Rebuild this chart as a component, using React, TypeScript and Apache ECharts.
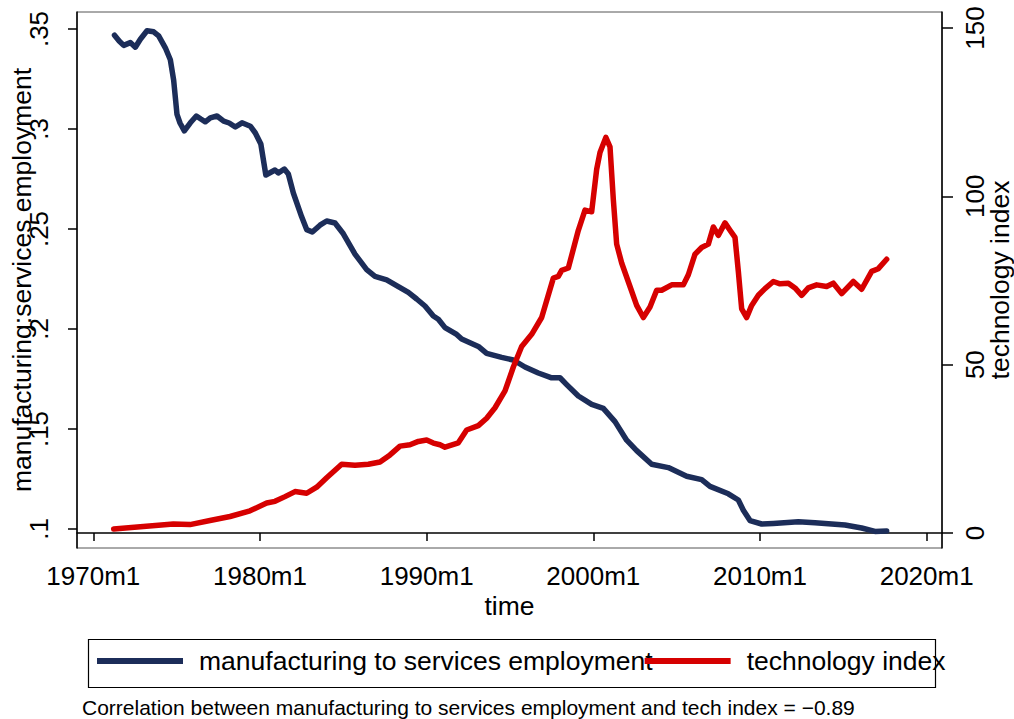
import React, { useEffect, useRef } from "react";
import * as echarts from "echarts";

// manufacturing : services employment ratio (left axis), time in decimal years
const mfgYears = [
  1971.27, 1971.55, 1971.82, 1972.22, 1972.52, 1972.82, 1973.22, 1973.62, 1973.92, 1974.32,
  1974.62, 1974.82, 1975.02, 1975.2, 1975.46, 1975.82, 1976.18, 1976.45, 1976.72, 1977.02,
  1977.42, 1977.82, 1978.15, 1978.52, 1978.92, 1979.42, 1979.72, 1980.05, 1980.35, 1980.9,
  1981.1, 1981.46, 1981.7, 1982.0, 1982.5, 1982.8, 1983.14, 1983.6, 1984.0, 1984.5,
  1985.0, 1985.7, 1986.4, 1986.9, 1987.6, 1988.3, 1988.9, 1989.4, 1989.9, 1990.4,
  1990.7, 1991.1, 1991.8, 1992.1, 1993.1, 1993.6, 1994.5, 1995.2, 1995.9, 1996.7,
  1997.5, 1998.0, 1998.4, 1999.1, 1999.9, 2000.6, 2001.3, 2002.0, 2002.6, 2003.5,
  2004.5, 2005.6, 2006.5, 2007.0, 2008.1, 2008.7, 2009.0, 2009.4, 2010.1, 2010.8,
  2012.3, 2013.3, 2015.1, 2016.1, 2016.9, 2017.6,
];
const mfgRatio = [
  0.3469, 0.344, 0.3418, 0.3432, 0.3409, 0.3449, 0.3491, 0.3486, 0.3466, 0.3406,
  0.3346, 0.3244, 0.3073, 0.303, 0.2991, 0.3031, 0.3065, 0.305, 0.3036, 0.3056,
  0.3065, 0.3039, 0.303, 0.301, 0.3031, 0.3014, 0.298, 0.2925, 0.277, 0.2795,
  0.278, 0.28, 0.2775, 0.268, 0.2561, 0.2497, 0.2485, 0.2519, 0.254, 0.253,
  0.2476, 0.2374, 0.2297, 0.2263, 0.2246, 0.2212, 0.2183, 0.215, 0.2115, 0.2065,
  0.2049, 0.2007, 0.1973, 0.195, 0.1913, 0.1878, 0.1858, 0.1845, 0.181, 0.178,
  0.1756, 0.1756, 0.1722, 0.1665, 0.1623, 0.1603, 0.1537, 0.1444, 0.1392, 0.1324,
  0.1307, 0.1264, 0.1247, 0.1213, 0.1176, 0.1145, 0.1094, 0.1042, 0.1025, 0.1028,
  0.1036, 0.1031, 0.102, 0.1005, 0.0988, 0.099,
];

// technology index (right axis)
const techYears = [
  1971.22, 1973.0, 1974.8, 1975.8, 1977.0, 1978.2, 1979.4, 1980.4, 1980.9, 1981.5,
  1982.1, 1982.8, 1983.4, 1984.0, 1984.9, 1985.7, 1986.5, 1987.2, 1987.8, 1988.4,
  1989.0, 1989.5, 1990.0, 1990.4, 1990.8, 1991.1, 1991.9, 1992.4, 1993.1, 1993.6,
  1994.1, 1994.7, 1995.2, 1995.7, 1996.3, 1996.9, 1997.6, 1997.9, 1998.1, 1998.5,
  1999.1, 1999.5, 1999.9, 2000.2, 2000.4, 2000.75, 2001.0, 2001.2, 2001.4, 2001.7,
  2002.2, 2002.6, 2003.0, 2003.4, 2003.8, 2004.1, 2004.7, 2005.4, 2005.7, 2006.1,
  2006.5, 2006.9, 2007.2, 2007.5, 2007.9, 2008.2, 2008.5, 2008.7, 2008.9, 2009.2,
  2009.5, 2009.9, 2010.3, 2010.8, 2011.2, 2011.7, 2012.1, 2012.5, 2012.9, 2013.4,
  2014.0, 2014.4, 2014.9, 2015.6, 2016.1, 2016.7, 2017.1, 2017.6,
];
const techIndex = [
  1.2, 1.9, 2.7, 2.5, 3.7, 4.9, 6.6, 8.9, 9.4, 10.8,
  12.3, 11.8, 13.6, 16.4, 20.4, 20.1, 20.4, 21.1, 23.2, 25.8,
  26.2, 27.2, 27.6, 26.7, 26.2, 25.5, 26.8, 30.6, 31.9, 34.1,
  37.2, 42.2, 49.3, 55.4, 59.0, 64.0, 75.7, 76.2, 78.0, 78.7,
  89.9, 95.9, 95.4, 108, 113, 117.5, 114.7, 99, 85.8, 80.2,
  73.2, 67.6, 64.0, 67.1, 72.1, 72.1, 73.7, 73.7, 76.7, 82.8,
  84.8, 85.8, 90.9, 88.4, 92.1, 89.9, 87.8, 77.7, 66.6, 64.0,
  67.6, 70.6, 72.6, 74.7, 74.0, 74.2, 72.8, 70.6, 72.8, 73.7,
  73.2, 74.2, 71.1, 74.7, 72.4, 77.7, 78.5, 81.3,
];

const xTicks = [1970, 1980, 1990, 2000, 2010, 2020];
const leftTicks = [0.1, 0.15, 0.2, 0.25, 0.3, 0.35];
const rightTicks = [0, 50, 100, 150];

const seriesNames = ["manufacturing to services employment", "technology index"];
const noteText =
  "Correlation between manufacturing to services employment and tech index = \u22120.89";

const FONT = "'Liberation Sans', Arial, Helvetica, sans-serif";
const NAVY = "#1c2d59";
const RED = "#d60000";
const TICK_FS = 26;
const TITLE_FS = 26.5;

export default function App() {
  const ref = useRef<HTMLDivElement>(null);

  useEffect(() => {
    if (!ref.current) return;
    const chart = echarts.init(ref.current, null, { renderer: "svg" });

    const mfgData = mfgYears.map((y, i) => [y, mfgRatio[i]]);
    const techData = techYears.map((y, i) => [y, techIndex[i]]);

    const fmtLeft = (v: number) => {
      let s = v.toFixed(2);
      s = s.replace(/^0/, "");
      s = s.replace(/0$/, "");
      return s;
    };

    chart.setOption({
      animation: false,
      backgroundColor: "#ffffff",
      textStyle: { fontFamily: FONT, color: "#000" },
      grid: {
        left: 77,
        right: 72,
        top: 12,
        bottom: 171,
        containLabel: false,
        outerBoundsMode: "none",
        show: true,
        borderColor: "#555",
        borderWidth: 1,
        backgroundColor: "transparent",
      },
      legend: {
        left: 97,
        top: 646,
        padding: 0,
        itemGap: -8,
        itemWidth: 86,
        itemHeight: 6,
        icon: "rect",
        data: seriesNames,
        selectedMode: false,
        textStyle: {
          fontFamily: FONT,
          fontSize: 26.5,
          color: "#000",
          lineHeight: 30,
          padding: [0, 0, 0, 11],
        },
      },
      xAxis: {
        type: "value",
        min: 1969.02,
        max: 2020.92,
        name: "time",
        nameLocation: "middle",
        nameGap: 44,
        nameMoveOverlap: false,
        nameTextStyle: { fontFamily: FONT, fontSize: TITLE_FS, color: "#000" },
        axisLine: { show: true, lineStyle: { color: "#000", width: 1.5 } },
        axisTick: {
          show: true,
          length: 8,
          customValues: xTicks,
          lineStyle: { color: "#000", width: 1.5 },
        },
        axisLabel: {
          customValues: xTicks,
          formatter: (v: number) => `${Math.round(v)}m1`,
          fontFamily: FONT,
          fontSize: TICK_FS,
          color: "#000",
          margin: 15,
        },
        splitLine: { show: false },
      },
      yAxis: [
        {
          type: "value",
          position: "left",
          min: 0.0905,
          max: 0.3585,
          name: "manufacturing:services employment",
          nameLocation: "middle",
          nameRotate: 90,
          nameGap: 42,
          nameMoveOverlap: false,
          nameTextStyle: { fontFamily: FONT, fontSize: TITLE_FS, color: "#000" },
          axisLine: { show: true, lineStyle: { color: "#000", width: 1.5 } },
          axisTick: {
            show: true,
            length: 9,
            customValues: leftTicks,
            lineStyle: { color: "#000", width: 1.5 },
          },
          axisLabel: {
            customValues: leftTicks,
            rotate: 90,
            formatter: fmtLeft,
            fontFamily: FONT,
            fontSize: TICK_FS,
            color: "#000",
            margin: 25,
          },
          splitLine: { show: false },
        },
        {
          type: "value",
          position: "right",
          min: -4.455,
          max: 154.74,
          name: "technology index",
          nameLocation: "middle",
          nameRotate: 90,
          nameGap: 44,
          nameMoveOverlap: false,
          nameTextStyle: { fontFamily: FONT, fontSize: TITLE_FS, color: "#000" },
          axisLine: { show: true, lineStyle: { color: "#000", width: 1.5 } },
          axisTick: {
            show: true,
            length: 11,
            customValues: rightTicks,
            lineStyle: { color: "#000", width: 1.5 },
          },
          axisLabel: {
            customValues: rightTicks,
            rotate: 90,
            fontFamily: FONT,
            fontSize: TICK_FS,
            color: "#000",
            margin: 20,
          },
          splitLine: { show: false },
        },
      ],
      series: [
        {
          name: seriesNames[0],
          type: "line",
          yAxisIndex: 0,
          data: mfgData,
          showSymbol: false,
          symbol: "none",
          color: NAVY,
          lineStyle: { color: NAVY, width: 5.5, cap: "round", join: "round" },
          z: 3,
        },
        {
          name: seriesNames[1],
          type: "line",
          yAxisIndex: 1,
          data: techData,
          showSymbol: false,
          symbol: "none",
          color: RED,
          lineStyle: { color: RED, width: 5.5, cap: "round", join: "round" },
          z: 4,
        },
      ],
      graphic: [
        {
          type: "rect",
          left: 86,
          top: 637,
          shape: { width: 847, height: 48 },
          style: { fill: "none", stroke: "#000", lineWidth: 1.2 },
          silent: true,
          z: 0,
        },
        {
          type: "text",
          left: 82,
          top: 697,
          style: {
            text: noteText,
            fontFamily: FONT,
            fontSize: 21,
            fill: "#000",
          },
          silent: true,
        },
      ],
    });

    return () => chart.dispose();
  }, []);

  return (
    <div
      ref={ref}
      style={{ position: "fixed", left: 0, top: 0, width: 1014, height: 719, background: "#fff" }}
    />
  );
}
